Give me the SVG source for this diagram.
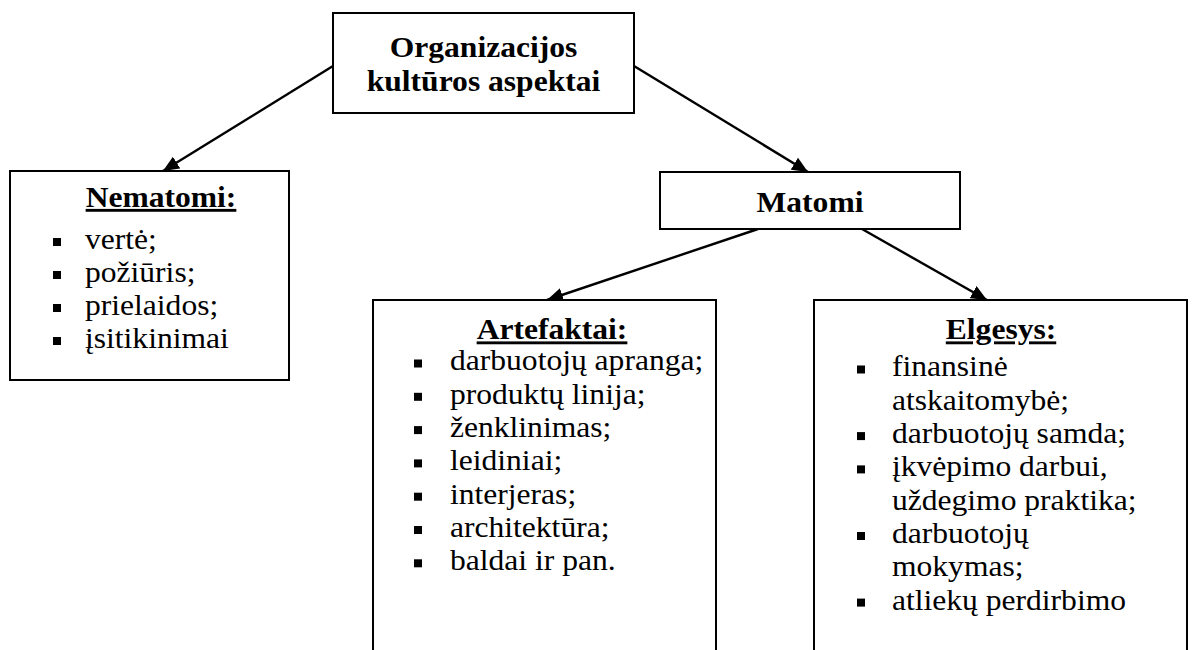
<svg xmlns="http://www.w3.org/2000/svg" width="1192" height="650" viewBox="0 0 1192 650">
  <defs>
    <marker id="arrow" markerUnits="userSpaceOnUse" markerWidth="18" markerHeight="14" refX="16" refY="7" orient="auto">
      <path d="M0,0 L16,7 L0,14 Z" fill="#000"/>
    </marker>
    <style>
      .box { fill: #fff; stroke: #000; stroke-width: 2; }
      .edge { stroke: #000; stroke-width: 2.4; fill: none; marker-end: url(#arrow); }
      /* text is set slightly wide: each line uses matrix(1.1 0 0 1 x 0) */
      .head { font-size: 28.7px; font-weight: bold; fill: #000; text-anchor: middle; }
      .ul { text-decoration: underline; }
      .item { font-size: 28.7px; fill: #000; }
      .dot { fill: #000; }
    </style>
  </defs>

  <rect width="1192" height="650" fill="#fff"/>

  <!-- connectors -->
  <g id="connectors">
    <line class="edge" x1="333" y1="66" x2="163" y2="171"/>
    <line class="edge" x1="634" y1="66" x2="808" y2="172"/>
    <line class="edge" x1="758" y1="229" x2="547" y2="300"/>
    <line class="edge" x1="862" y1="229" x2="987" y2="300"/>
  </g>

  <g font-family="'Liberation Serif', 'Times New Roman', 'DejaVu Serif', serif">
    <!-- root -->
    <g id="node-root">
      <rect class="box" x="333" y="13" width="301" height="100"/>
      <text class="head" transform="matrix(1.1 0 0 1 483.5 0)" y="57">Organizacijos</text>
      <text class="head" transform="matrix(1.1 0 0 1 483.5 0)" y="91">kultūros aspektai</text>
    </g>

    <!-- invisible aspects -->
    <g id="node-nematomi">
      <rect class="box" x="10" y="171" width="279" height="209"/>
      <text class="head ul" transform="matrix(1.1 0 0 1 161 0)" y="207">Nematomi:</text>
      <rect class="dot" x="53" y="238" width="8" height="8"/>
      <text class="item" transform="matrix(1.1 0 0 1 85 0)" y="249">vertė;</text>
      <rect class="dot" x="53" y="271" width="8" height="8"/>
      <text class="item" transform="matrix(1.1 0 0 1 85 0)" y="282">požiūris;</text>
      <rect class="dot" x="53" y="304" width="8" height="8"/>
      <text class="item" transform="matrix(1.1 0 0 1 85 0)" y="315">prielaidos;</text>
      <rect class="dot" x="53" y="337" width="8" height="8"/>
      <text class="item" transform="matrix(1.1 0 0 1 85 0)" y="348">įsitikinimai</text>
    </g>

    <!-- visible aspects -->
    <g id="node-matomi">
      <rect class="box" x="660" y="172" width="300" height="57"/>
      <text class="head" transform="matrix(1.1 0 0 1 810 0)" y="212">Matomi</text>
    </g>

    <!-- artefacts -->
    <g id="node-artefaktai">
      <path class="box" d="M373,652 V300 H716 V652"/>
      <text class="head ul" transform="matrix(1.1 0 0 1 552 0)" y="339.5">Artefaktai:</text>
      <rect class="dot" x="414" y="359.5" width="8" height="8"/>
      <text class="item" transform="matrix(1.1 0 0 1 450 0)" y="370.5">darbuotojų apranga;</text>
      <rect class="dot" x="414" y="392.8" width="8" height="8"/>
      <text class="item" transform="matrix(1.1 0 0 1 450 0)" y="403.8">produktų linija;</text>
      <rect class="dot" x="414" y="426.1" width="8" height="8"/>
      <text class="item" transform="matrix(1.1 0 0 1 450 0)" y="437.1">ženklinimas;</text>
      <rect class="dot" x="414" y="459.4" width="8" height="8"/>
      <text class="item" transform="matrix(1.1 0 0 1 450 0)" y="470.4">leidiniai;</text>
      <rect class="dot" x="414" y="492.7" width="8" height="8"/>
      <text class="item" transform="matrix(1.1 0 0 1 450 0)" y="503.7">interjeras;</text>
      <rect class="dot" x="414" y="526" width="8" height="8"/>
      <text class="item" transform="matrix(1.1 0 0 1 450 0)" y="537">architektūra;</text>
      <rect class="dot" x="414" y="559.3" width="8" height="8"/>
      <text class="item" transform="matrix(1.1 0 0 1 450 0)" y="570.3">baldai ir pan.</text>
    </g>

    <!-- behaviour -->
    <g id="node-elgesys">
      <path class="box" d="M814,652 V300 H1187 V652"/>
      <text class="head ul" transform="matrix(1.1 0 0 1 1001 0)" y="339.5">Elgesys:</text>
      <rect class="dot" x="857" y="365.5" width="8" height="8"/>
      <text class="item" transform="matrix(1.1 0 0 1 892 0)" y="376.5">finansinė</text>
      <text class="item" transform="matrix(1.1 0 0 1 892 0)" y="409.8">atskaitomybė;</text>
      <rect class="dot" x="857" y="432.1" width="8" height="8"/>
      <text class="item" transform="matrix(1.1 0 0 1 892 0)" y="443.1">darbuotojų samda;</text>
      <rect class="dot" x="857" y="465.4" width="8" height="8"/>
      <text class="item" transform="matrix(1.1 0 0 1 892 0)" y="476.4">įkvėpimo darbui,</text>
      <text class="item" transform="matrix(1.1 0 0 1 892 0)" y="509.7">uždegimo praktika;</text>
      <rect class="dot" x="857" y="532" width="8" height="8"/>
      <text class="item" transform="matrix(1.1 0 0 1 892 0)" y="543">darbuotojų</text>
      <text class="item" transform="matrix(1.1 0 0 1 892 0)" y="576.3">mokymas;</text>
      <rect class="dot" x="857" y="598.6" width="8" height="8"/>
      <text class="item" transform="matrix(1.1 0 0 1 892 0)" y="609.6">atliekų perdirbimo</text>
    </g>
  </g>
</svg>
